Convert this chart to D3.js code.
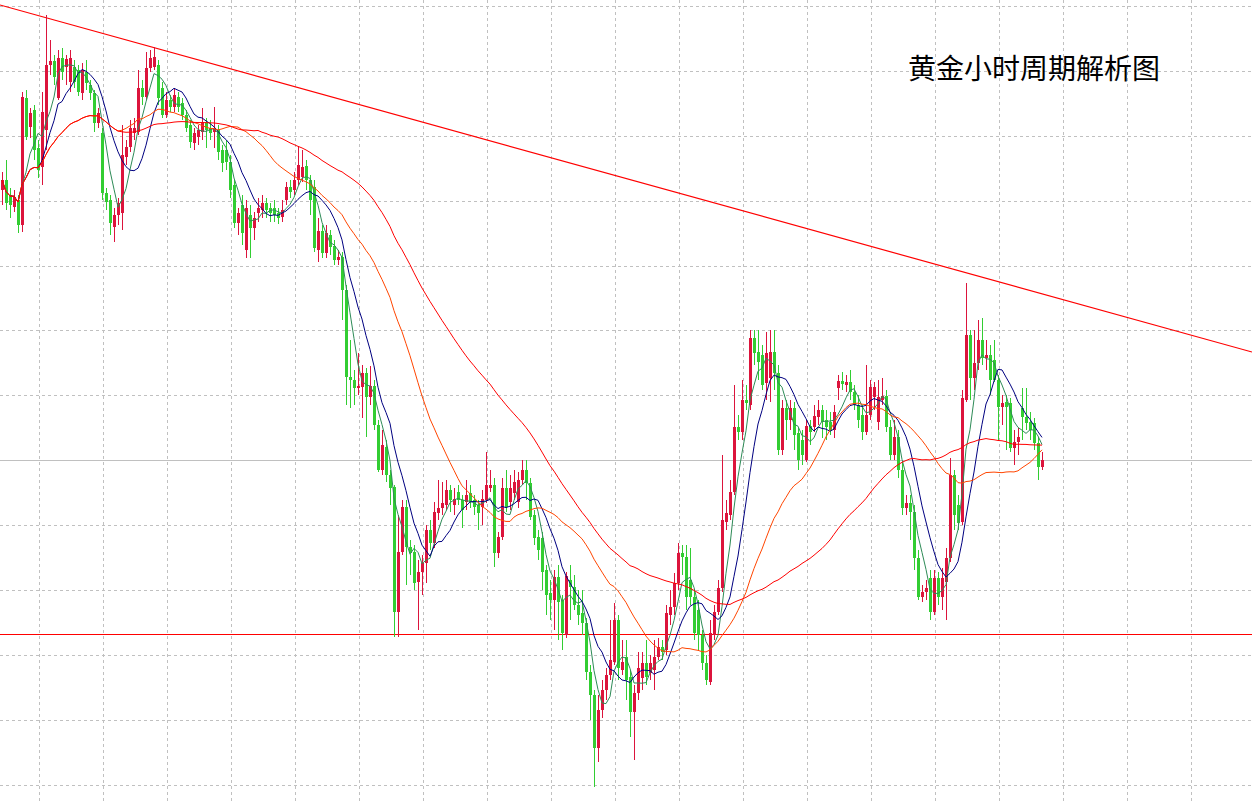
<!DOCTYPE html>
<html><head><meta charset="utf-8">
<script src="https://cdn.jsdelivr.net/npm/d3@7"></script>
<style>html,body{margin:0;padding:0;background:#fff;overflow:hidden}</style>
</head><body>
<svg id="c" width="1252" height="802"></svg>
<script>
const ohlc = [
[2361.0,2362.8,2359.5,2362.0],[2362.0,2364.0,2359.0,2359.7],[2360.5,2361.2,2358.2,2359.5],[2359.3,2361.0,2358.8,2360.3],[2360.0,2360.5,2356.7,2357.5],
[2357.5,2370.8,2356.8,2370.3],[2370.2,2371.0,2366.0,2366.3],[2367.3,2369.2,2366.2,2368.7],[2369.0,2369.5,2364.0,2365.0],[2365.2,2366.0,2362.2,2363.0],
[2363.3,2370.8,2361.5,2368.8],[2367.0,2378.5,2365.0,2373.5],[2373.5,2376.0,2372.5,2373.9],[2373.9,2374.5,2371.5,2372.3],[2370.2,2375.0,2370.0,2374.2],
[2374.2,2375.2,2372.0,2372.8],[2373.3,2374.5,2371.5,2374.1],[2371.8,2375.0,2370.8,2374.2],[2373.3,2374.0,2371.2,2371.8],[2373.0,2373.5,2370.4,2370.8],
[2370.7,2373.7,2370.0,2373.0],[2372.8,2374.0,2371.0,2371.7],[2371.5,2372.0,2370.0,2370.7],[2370.7,2371.0,2366.8,2367.7],[2367.7,2369.2,2367.2,2368.7],
[2366.7,2367.2,2360.0,2360.7],[2360.7,2361.2,2359.0,2359.8],[2360.0,2360.5,2356.5,2357.7],[2357.3,2359.2,2355.8,2358.5],[2358.5,2360.2,2357.5,2359.7],
[2358.7,2367.5,2357.0,2364.5],[2364.3,2366.0,2363.5,2365.3],[2365.3,2368.0,2364.8,2367.2],[2366.7,2368.2,2366.0,2367.2],[2366.8,2373.0,2366.5,2371.2],
[2371.2,2372.0,2369.5,2370.3],[2370.3,2374.8,2370.0,2373.2],[2373.2,2375.0,2372.8,2374.2],[2373.3,2375.3,2373.0,2374.3],[2373.5,2374.0,2369.5,2370.2],
[2371.2,2371.8,2368.2,2368.5],[2368.5,2370.8,2368.2,2370.0],[2370.0,2370.5,2368.8,2369.3],[2369.3,2371.2,2368.8,2370.5],[2370.3,2370.8,2368.8,2369.3],
[2369.7,2370.2,2368.0,2368.5],[2368.5,2369.0,2366.8,2367.2],[2367.5,2368.0,2365.2,2365.8],[2365.7,2367.2,2365.0,2366.7],[2366.3,2367.5,2365.5,2367.0],
[2366.8,2369.2,2366.0,2367.8],[2367.8,2368.2,2365.2,2367.0],[2367.2,2368.0,2366.0,2366.7],[2366.8,2369.3,2365.2,2367.2],[2367.0,2367.5,2364.0,2364.8],
[2365.0,2365.5,2362.8,2363.7],[2365.0,2366.0,2363.0,2363.8],[2363.8,2364.5,2360.2,2361.0],[2361.5,2362.0,2357.2,2357.7],[2357.7,2359.2,2356.5,2358.7],
[2359.5,2360.5,2355.5,2356.7],[2355.0,2360.0,2354.2,2359.2],[2358.5,2359.5,2354.2,2357.2],[2357.2,2358.8,2356.0,2358.2],[2358.7,2360.2,2357.8,2359.2],
[2359.0,2360.5,2358.2,2359.7],[2359.7,2360.2,2358.2,2359.0],[2359.2,2359.7,2357.8,2358.7],[2359.2,2360.0,2357.8,2358.5],[2358.7,2359.2,2357.6,2358.2],
[2358.3,2360.0,2357.8,2359.0],[2360.0,2361.8,2359.5,2361.3],[2361.3,2362.0,2360.2,2360.8],[2361.0,2362.8,2360.5,2362.0],[2362.0,2365.4,2361.5,2363.5],
[2362.3,2365.0,2361.8,2363.3],[2363.4,2364.0,2361.0,2362.0],[2362.0,2362.5,2358.5,2360.0],[2361.3,2362.0,2354.8,2355.2],[2355.0,2358.2,2353.8,2356.9],
[2356.9,2357.5,2354.2,2354.7],[2354.7,2357.5,2354.2,2356.7],[2356.5,2357.0,2354.5,2355.3],[2355.4,2356.0,2353.5,2354.0],[2354.0,2355.0,2353.5,2354.3],
[2354.3,2354.8,2348.0,2351.0],[2351.0,2351.5,2339.5,2342.3],[2342.3,2346.0,2339.2,2342.0],[2342.0,2343.0,2339.5,2341.2],[2341.2,2344.7,2340.5,2341.4],
[2341.3,2343.5,2338.2,2342.7],[2342.7,2343.2,2336.3,2340.3],[2340.3,2343.4,2339.5,2341.4],[2341.4,2342.0,2337.0,2337.5],[2337.5,2338.0,2332.8,2333.0],
[2333.0,2337.0,2332.5,2335.5],[2335.3,2336.0,2331.8,2332.5],[2332.5,2333.0,2329.5,2331.2],[2331.3,2331.5,2316.3,2318.8],[2318.8,2328.5,2316.3,2324.8],
[2324.8,2330.0,2324.5,2329.3],[2329.3,2330.0,2321.5,2325.3],[2325.3,2326.0,2322.5,2324.7],[2324.8,2325.5,2321.0,2321.7],[2321.8,2324.0,2317.0,2322.8],
[2322.8,2324.5,2320.5,2323.7],[2323.7,2327.5,2321.7,2327.0],[2327.0,2328.0,2325.0,2325.7],[2325.7,2329.8,2325.2,2328.8],[2328.7,2332.0,2328.0,2329.2],
[2329.2,2331.8,2328.5,2329.7],[2329.5,2332.0,2329.0,2331.0],[2331.0,2331.5,2328.8,2330.0],[2329.5,2331.2,2328.5,2330.1],[2330.8,2331.5,2329.5,2330.0],
[2330.0,2330.5,2327.2,2329.0],[2329.8,2332.0,2329.0,2330.5],[2330.7,2331.5,2329.2,2329.8],[2330.0,2330.5,2328.5,2329.3],[2329.5,2330.0,2327.0,2328.7],
[2329.3,2331.0,2327.5,2330.1],[2330.0,2334.8,2329.7,2331.5],[2331.2,2333.0,2330.8,2331.5],[2331.5,2332.2,2323.3,2324.7],[2324.7,2326.8,2324.2,2326.3],
[2326.3,2332.2,2326.0,2331.2],[2331.2,2333.0,2328.8,2329.3],[2329.8,2332.5,2329.0,2331.2],[2330.7,2333.0,2330.0,2331.8],[2329.8,2332.8,2329.2,2332.0],
[2332.0,2334.0,2331.5,2333.0],[2333.0,2334.0,2330.0,2331.7],[2331.7,2332.2,2328.0,2328.3],[2328.5,2329.0,2325.5,2326.2],[2326.3,2327.0,2324.0,2325.0],
[2326.2,2326.8,2321.0,2322.8],[2323.0,2323.5,2318.5,2320.5],[2320.7,2322.0,2318.0,2320.0],[2320.0,2323.0,2317.0,2322.3],[2322.3,2323.5,2316.0,2319.8],
[2320.0,2320.5,2315.0,2316.7],[2316.5,2322.8,2316.2,2322.4],[2322.0,2323.5,2318.0,2321.3],[2321.3,2322.5,2319.0,2319.5],[2319.5,2321.0,2317.5,2318.5],
[2318.7,2321.0,2316.5,2317.7],[2317.7,2318.2,2312.0,2312.8],[2312.8,2313.5,2308.0,2310.5],[2310.5,2311.0,2301.3,2305.2],[2305.2,2310.5,2303.8,2309.0],
[2309.0,2312.0,2308.2,2311.0],[2311.0,2313.2,2310.0,2312.5],[2312.5,2318.0,2312.0,2314.0],[2313.8,2319.7,2313.5,2318.0],[2318.0,2318.5,2312.0,2313.2],
[2313.0,2316.0,2312.5,2313.8],[2314.3,2316.0,2310.0,2312.0],[2312.3,2313.0,2306.3,2308.8],[2308.8,2311.5,2304.0,2310.7],[2310.7,2314.8,2310.0,2313.2],
[2312.2,2314.8,2311.0,2313.7],[2313.7,2316.0,2311.5,2312.3],[2312.7,2314.5,2312.0,2313.7],[2313.0,2316.0,2311.0,2314.3],[2314.3,2316.2,2314.0,2315.3],
[2315.3,2316.0,2314.0,2314.8],[2315.0,2319.5,2314.5,2318.7],[2318.5,2321.0,2317.5,2319.3],[2319.3,2322.7,2318.5,2321.7],[2321.7,2325.7,2321.0,2324.7],
[2324.7,2325.5,2322.5,2324.3],[2324.3,2325.5,2319.0,2320.3],[2322.0,2325.2,2319.5,2320.3],[2320.3,2321.0,2316.0,2316.7],[2319.0,2320.0,2315.0,2316.5],
[2316.5,2317.0,2313.0,2313.7],[2313.7,2314.5,2311.5,2312.0],[2311.8,2318.0,2311.5,2316.7],[2316.5,2319.5,2316.0,2318.8],[2318.8,2322.0,2318.5,2321.2],
[2321.2,2334.5,2320.8,2328.0],[2327.8,2330.0,2327.0,2328.7],[2328.5,2332.0,2328.0,2330.8],[2330.8,2341.5,2330.5,2337.3],[2337.3,2338.5,2336.0,2336.8],
[2336.8,2342.0,2336.0,2340.0],[2340.0,2341.5,2339.0,2339.7],[2339.5,2347.0,2339.0,2346.2],[2346.2,2347.0,2343.5,2344.7],[2344.8,2347.0,2342.0,2343.8],
[2344.5,2345.5,2341.0,2341.5],[2341.7,2346.8,2340.0,2344.7],[2342.2,2347.0,2339.8,2344.8],[2344.8,2347.0,2341.0,2342.7],[2342.7,2343.5,2334.5,2335.0],
[2335.0,2340.0,2334.5,2339.2],[2339.2,2340.0,2336.0,2338.0],[2338.0,2340.0,2337.0,2339.2],[2339.2,2339.8,2335.0,2336.5],[2336.7,2337.2,2333.0,2334.0],
[2336.0,2337.0,2333.5,2334.5],[2334.0,2338.0,2333.8,2337.4],[2337.4,2338.0,2335.5,2336.8],[2337.3,2339.5,2336.8,2338.4],[2338.3,2340.0,2337.5,2339.0],
[2339.0,2339.5,2336.2,2337.8],[2338.0,2339.0,2336.0,2337.3],[2337.8,2338.8,2336.5,2337.0],[2337.0,2339.5,2336.2,2338.8],[2341.2,2342.5,2340.0,2341.9],
[2341.9,2342.8,2341.0,2341.6],[2341.5,2342.5,2340.8,2341.8],[2341.8,2343.0,2340.0,2340.8],[2340.8,2341.5,2339.0,2339.5],[2339.5,2340.5,2337.2,2338.0],
[2338.5,2339.5,2336.0,2336.8],[2336.8,2343.5,2336.5,2338.5],[2338.5,2342.0,2338.0,2341.3],[2340.3,2341.8,2339.0,2341.3],[2337.8,2342.0,2337.0,2340.3],
[2340.0,2342.2,2339.5,2340.4],[2340.4,2341.0,2336.8,2337.3],[2337.3,2338.0,2334.0,2334.5],[2334.5,2338.0,2334.0,2336.3],[2336.3,2337.0,2332.2,2333.0],
[2333.0,2333.8,2328.5,2329.2],[2329.2,2330.5,2328.5,2329.7],[2329.7,2330.5,2326.0,2328.8],[2328.8,2329.5,2323.0,2324.2],[2324.2,2325.0,2320.0,2320.3],
[2320.3,2321.5,2319.8,2320.8],[2320.8,2322.0,2320.0,2321.2],[2322.2,2323.0,2318.0,2318.8],[2318.8,2323.0,2318.5,2322.2],[2322.2,2322.8,2319.5,2320.3],
[2320.3,2323.2,2319.0,2322.2],[2321.8,2325.2,2318.0,2324.2],[2324.2,2334.2,2323.8,2332.5],[2332.5,2333.0,2327.0,2328.5],[2329.5,2330.5,2327.0,2327.7],
[2327.8,2341.0,2327.5,2340.2],[2340.0,2351.7,2339.8,2346.5],[2346.5,2347.0,2340.0,2342.2],[2342.2,2347.0,2341.0,2343.7],[2343.7,2348.0,2343.0,2346.0],
[2346.0,2348.2,2343.5,2344.2],[2344.2,2346.0,2343.0,2344.5],[2344.5,2345.5,2340.5,2342.0],[2344.0,2346.0,2341.8,2342.0],[2342.0,2342.5,2336.0,2339.3],
[2339.3,2340.5,2337.5,2339.7],[2339.8,2340.5,2335.0,2339.3],[2339.7,2340.2,2334.8,2335.2],[2335.2,2337.0,2333.5,2335.8],[2335.8,2337.2,2334.5,2336.3],
[2339.2,2341.2,2336.0,2338.3],[2338.3,2341.2,2337.0,2337.7],[2337.8,2338.8,2336.0,2337.0],[2337.7,2338.2,2335.0,2335.7],[2335.7,2336.3,2332.0,2333.3],
[2333.3,2334.8,2333.0,2334.0]
];
const opens = ohlc.map(d=>d[0]), highs = ohlc.map(d=>d[1]), lows = ohlc.map(d=>d[2]), closes = ohlc.map(d=>d[3]);
const maPeriods = [5, 10, 30, 60];
const maColors = ["#2e8b57", "#000080", "#ff4500", "#ff0000"];
const trendLine = [[-0.5, 2379.5], [312.5, 2344.8]];
const supportLevel = 2316.6;
const gridStartIdx = 9.17, gridStepIdx = 16;
const gridTopPrice = 2379.425, gridStepPrice = 6.495;
const title = "黄金小时周期解析图";

const W = 1252, H = 802;
const svg = d3.select("#c");
const x = d3.scaleLinear().domain([-0.5, 312.5]).range([0, W]);
const y = d3.scaleLinear().domain([2380 - 80.2, 2380]).range([H, 0]);

const g = svg.append("g");
const vt = d3.range(gridStartIdx, 312.5, gridStepIdx);
const ht = d3.range(gridTopPrice, 2299.8, -gridStepPrice);
g.selectAll(".v").data(vt).join("line").attr("x1",d=>Math.round(x(d))+0.5).attr("x2",d=>Math.round(x(d))+0.5)
 .attr("y1",0).attr("y2",H).attr("stroke","#c0c0c0").attr("stroke-dasharray","3,3");
g.selectAll(".h").data(ht).join("line").attr("y1",d=>Math.round(y(d))+0.5).attr("y2",d=>Math.round(y(d))+0.5)
 .attr("x1",0).attr("x2",W).attr("stroke","#c0c0c0").attr("stroke-dasharray","3,3");

const last = closes[closes.length-1];
svg.append("line").attr("x1",0).attr("x2",W).attr("y1",Math.round(y(last))+0.5).attr("y2",Math.round(y(last))+0.5).attr("stroke","#c0c0c0");
svg.append("line").attr("x1",x(trendLine[0][0])).attr("y1",y(trendLine[0][1])).attr("x2",x(trendLine[1][0])).attr("y2",y(trendLine[1][1])).attr("stroke","#ff0000").attr("stroke-width",1.2);
svg.append("line").attr("x1",0).attr("x2",W).attr("y1",Math.round(y(supportLevel))+0.5).attr("y2",Math.round(y(supportLevel))+0.5).attr("stroke","#ff0000").attr("stroke-width",1.2);

const up = "#dc143c", dn = "#32cd32";
const cg = svg.append("g").attr("shape-rendering","crispEdges");
ohlc.forEach((d,i)=>{
  const cx = Math.round(x(i));
  const col = d[3] >= d[0] ? up : dn;
  cg.append("line").attr("x1",cx+0.5).attr("x2",cx+0.5).attr("y1",y(d[1])).attr("y2",y(d[2])).attr("stroke",col);
  const top = y(Math.max(d[0],d[3])), bot = y(Math.min(d[0],d[3]));
  cg.append("rect").attr("x",cx-1).attr("width",3).attr("y",top).attr("height",Math.max(1,bot-top)).attr("fill",col);
});

maPeriods.forEach((p,k)=>{
  const ma = closes.map((c,i)=>d3.mean(closes.slice(Math.max(0,i-p+1), i+1)));
  svg.append("path").datum(ma).attr("fill","none").attr("stroke",maColors[k]).attr("stroke-width",1)
    .attr("d", d3.line().x((d,i)=>x(i)).y(d=>y(d)));
});

svg.append("text").attr("x",908).attr("y",79).attr("font-family","'Noto Sans CJK SC', sans-serif")
  .attr("font-size",28).attr("fill","#000").text(title);
</script>
</body></html>
